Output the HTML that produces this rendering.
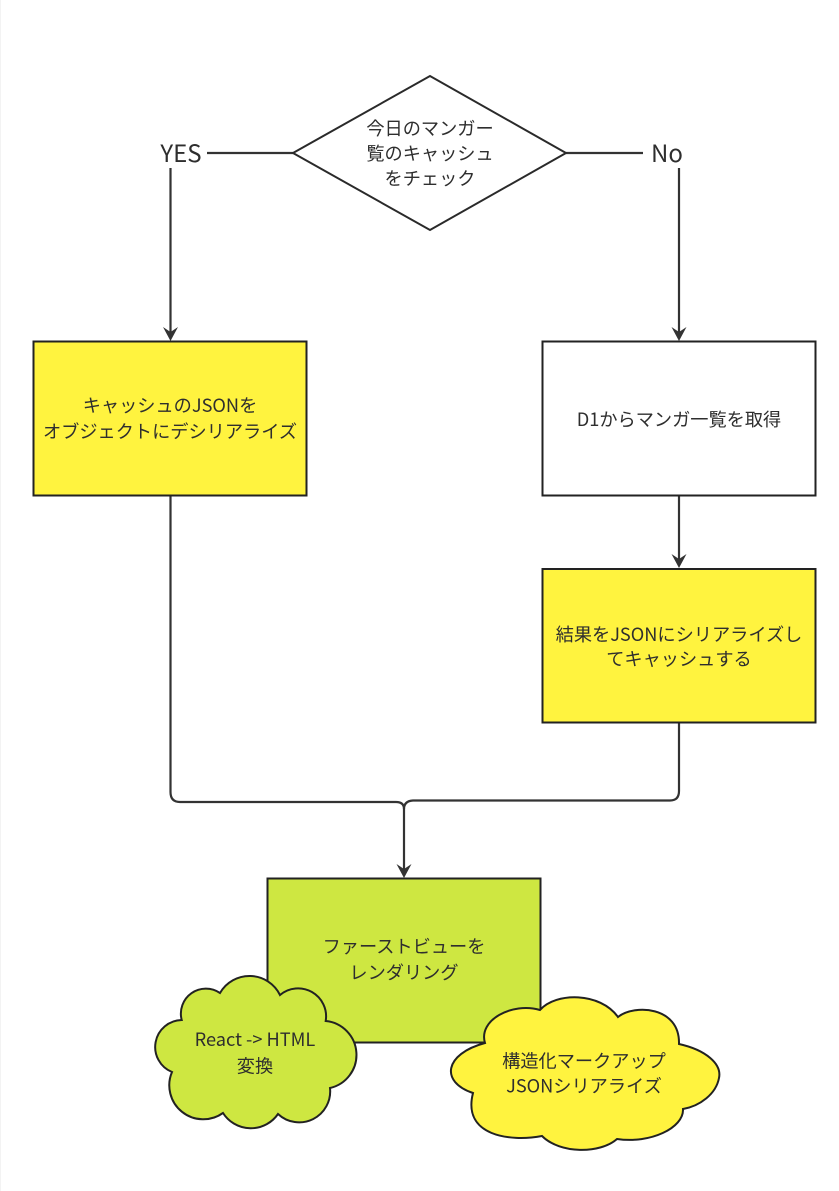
<!DOCTYPE html>
<html lang="ja"><head><meta charset="utf-8"><title>Diagram</title>
<style>
html,body{margin:0;padding:0;background:#fff;width:839px;height:1191px;overflow:hidden}
svg{display:block}
text{font-family:"Noto Sans CJK JP","Liberation Sans",sans-serif;font-size:18.2px;fill:#2e2e2e;text-anchor:middle}
.big{font-size:24px}
</style></head><body>
<svg width="839" height="1191" viewBox="0 0 839 1191" xmlns="http://www.w3.org/2000/svg">
<rect x="0" y="0" width="839" height="1191" fill="#fff"/>
<line x1="0.5" y1="0" x2="0.5" y2="1191" stroke="#f3f3f3"/>
<g fill="none" stroke="#333" stroke-width="2.200">
<path d="M293 153H207"/><path d="M170.500 168V332"/>
<path d="M566 153H643"/><path d="M679 168V332"/>
<path d="M679 495V559"/>
<path d="M170.500 495V792Q170.500 802 180 802H396Q404 802 404 809"/>
<path d="M679 722V791Q679 800.500 670 800.500H413Q404 801 404 809V869"/>
</g>
<g fill="#333">
<path d="M163 327L170.500 332L178 327L170.500 341Z"/>
<path d="M671.500 327L679 332L686.500 327L679 341Z"/>
<path d="M671.500 554L679 559L686.500 554L679 568Z"/>
<path d="M396.500 864L404 869L411.500 864L404 878Z"/>
</g>
<polygon points="293,153 430,76 566,153 430,230" fill="#fff" stroke="#2a2a2a" stroke-width="2"/>
<rect x="33.500" y="341.500" width="273" height="154" fill="#FFF33F" stroke="#222" stroke-width="2"/>
<rect x="542.500" y="341.500" width="273" height="154" fill="#fff" stroke="#222" stroke-width="2"/>
<rect x="542.500" y="569" width="273" height="153.500" fill="#FFF33F" stroke="#222" stroke-width="2"/>
<rect x="267.500" y="878.500" width="273" height="164" fill="#CEE741" stroke="#222" stroke-width="2"/>
<path d="M220 993A34 34 0 0 1 280 995A28 28 0 0 1 325.700 1021A34 34 0 0 1 330 1088A31 31 0 0 1 278 1114A33 33 0 0 1 223 1113A34 34 0 0 1 172 1072A27 27 0 0 1 181.700 1020A25 25 0 0 1 220 993Z" fill="#CEE741" stroke="#222" stroke-width="2"/>
<path d="M540 1010C556 992 600 992 618 1017C634 1004 680 1006 679 1044C706 1050 722 1064 719 1078C716 1094 700 1106 683 1109C684 1128 650 1144 617 1139C600 1154 560 1154 542 1136C510 1142 462 1136 473 1093C440 1082 444 1054 485 1043C478 1020 512 1002 540 1010Z" fill="#FFF33F" stroke="#222" stroke-width="2"/>
<text class="big" x="181" y="162">YES</text>
<text class="big" x="667" y="162">No</text>
<text x="430" y="135">今日のマンガー</text>
<text x="430" y="160">覧のキャッシュ</text>
<text x="430" y="185">をチェック</text>
<text x="170" y="412">キャッシュのJSONを</text>
<text x="170" y="438">オブジェクトにデシリアライズ</text>
<text x="679" y="426">D1からマンガ一覧を取得</text>
<text x="679" y="641">結果をJSONにシリアライズし</text>
<text x="679" y="665.500">てキャッシュする</text>
<text x="404" y="953">ファーストビューを</text>
<text x="404" y="979">レンダリング</text>
<text x="255" y="1046">React -&gt; HTML</text>
<text x="255" y="1072.500">変換</text>
<text x="584" y="1067.500">構造化マークアップ</text>
<text x="584" y="1092.500">JSONシリアライズ</text>
</svg>
</body></html>
